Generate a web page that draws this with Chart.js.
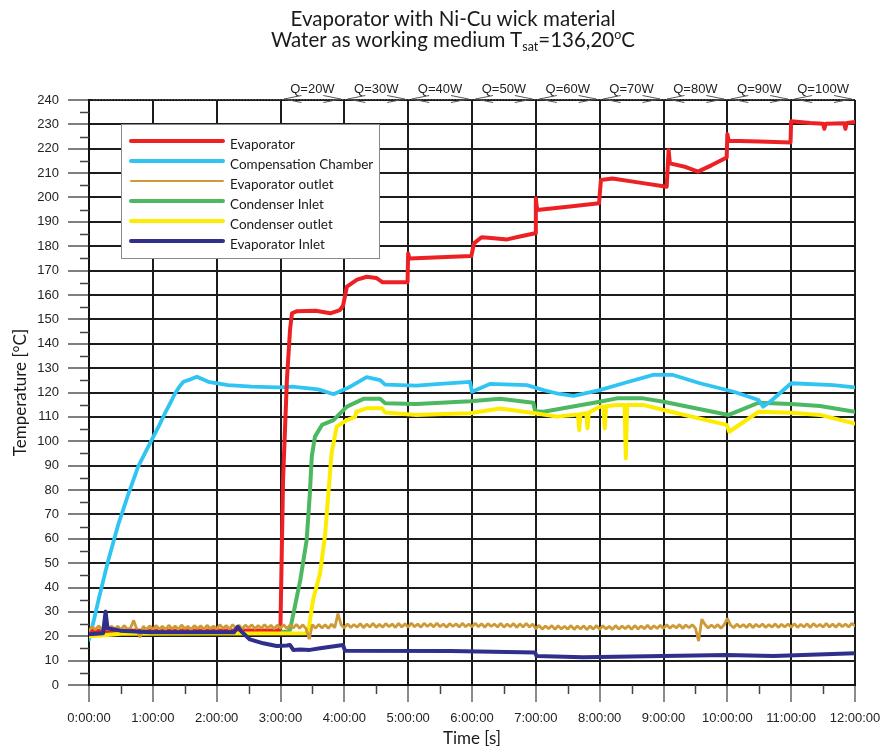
<!DOCTYPE html>
<html>
<head>
<meta charset="utf-8">
<script src="https://cdn.jsdelivr.net/npm/chart.js@4.4.1/dist/chart.umd.min.js"></script>
<style>
html,body{margin:0;padding:0;background:#fff;}
#wrap{position:relative;width:882px;height:749px;overflow:hidden;}
canvas{position:absolute;left:0;top:0;}
#title{position:absolute;left:0;top:8px;width:882px;box-sizing:border-box;padding-left:24px;text-align:center;
  font-family:Lato,"Open Sans",sans-serif;font-size:20.5px;line-height:21px;color:#1a1a1a;}
#title sub,#title sup{font-size:12.5px;line-height:0;position:relative;vertical-align:baseline;}
#title sub{top:4px;}
#title sup{top:-8px;}
</style>
</head>
<body>
<div id="wrap">
<canvas id="c" width="882" height="749"></canvas>
<div id="title">Evaporator with Ni-Cu wick material<br>Water as working medium T<sub>sat</sub>=136,20<sup>o</sup>C</div>
</div>
<script>
// ---------- data (time in hours, temperature in °C) ----------
const powerLabels = ['Q=20W','Q=30W','Q=40W','Q=50W','Q=60W','Q=70W','Q=80W','Q=90W','Q=100W'];
const powerStartHours = [3,4,5,6,7,8,9,10,11];

const seriesNames = ['Evaporator','Compensation Chamber','Evaporator outlet','Condenser Inlet','Condenser outlet','Evaporator Inlet'];

const evaporatorTime = [0,2.98,3.0,3.04,3.1,3.15,3.18,3.25,3.55,3.78,3.93,3.98,4.04,4.2,4.35,4.5,4.6,4.99,5.0,5.02,5.5,5.99,6.03,6.15,6.3,6.55,6.75,6.99,7.0,7.02,7.5,7.99,8.02,8.2,8.6,9.05,9.08,9.1,9.35,9.54,9.75,9.99,10.0,10.02,10.5,10.99,11.0,11.3,11.5,11.52,11.54,11.83,11.85,11.87,12.0];
const evaporatorTemp = [22.3,22.5,25,84,125,146,152.5,153.3,153.5,152.5,153.8,155.6,163.4,166.3,167.5,167,165.2,165.2,177,175,175.5,176,181.2,183.7,183.4,182.8,184,185.3,199.7,194.9,196.2,197.6,207.2,207.8,206.2,204.4,219.5,214,212.5,210.6,213.2,216.4,226,223.3,223,222.6,231.3,230.6,230.3,228.2,230.3,230.5,228.2,230.6,231];

const chamberTime = [0,0.08,0.15,0.3,0.46,0.62,0.77,0.98,1.1,1.19,1.28,1.35,1.42,1.48,1.6,1.69,1.87,2.18,2.55,2.97,3.18,3.59,3.83,4.1,4.35,4.56,4.64,5.13,5.5,5.97,6.0,6.28,6.86,7.12,7.35,7.59,8.0,8.4,8.84,9.15,9.57,10.1,10.49,10.56,10.67,11.0,11.66,12.0];
const chamberTemp = [18.5,27,35,51,66,78.6,89.6,100.5,106.5,111.5,116,119.7,122.5,124.4,125.5,126.5,124.4,123,122.4,122.1,122.4,121.3,119.3,122.5,126.3,125.1,123.2,122.8,123.5,124.4,120.3,123.5,123,121,119.5,118.6,121,124,127.2,127.2,123.8,120.3,116.9,114.2,116.2,123.8,123,122.1];

// evaporator outlet: logged every 3 minutes (0.05 h)
const outletSampleStepH = 0.05;
const outletTemp = [
22.4,23.8,22.7,24.3,22.8,24.0,22.5,24.2,23.0,24.1,22.6,24.4,22.9,23.4,26.5,22.8,19.5,24.1,22.7,24.3,
22.8,24.4,22.9,24.1,22.7,24.5,23.0,24.2,22.8,24.6,23.1,24.1,22.7,24.4,23.2,24.3,22.8,24.5,23.1,24.2,
23.0,24.7,23.2,24.4,22.9,24.8,23.3,24.5,23.0,24.6,23.4,24.7,23.1,24.4,23.2,24.8,23.3,24.5,23.0,24.6,
23.3,24.8,23.1,24.6,23.4,24.9,23.2,24.7,23.1,18.8,24.8,23.3,24.9,23.4,24.7,23.2,25.0,23.5,29.3,24.7,
23.4,25.1,23.6,24.8,23.7,25.2,23.5,25.0,23.8,25.3,23.6,24.9,23.7,25.2,23.9,25.0,23.6,25.3,23.8,25.1,
23.7,25.4,23.9,25.0,23.7,25.3,24.0,25.1,23.8,25.4,23.9,25.0,23.7,25.2,24.0,25.1,23.8,25.3,23.9,25.0,
23.8,25.4,23.9,25.1,23.7,25.2,24.0,25.0,23.8,25.3,23.7,25.0,23.9,25.2,23.6,25.1,23.8,25.3,23.8,25.0,
23.0,24.5,22.9,24.2,23.1,24.4,22.8,24.3,23.0,24.1,22.9,24.4,22.8,24.2,23.0,24.3,22.7,24.2,22.9,24.4,
22.8,24.3,23.0,24.1,22.8,24.4,22.9,24.2,23.1,24.3,22.8,24.4,23.0,24.2,23.1,24.5,23.0,24.3,23.2,24.5,
23.2,24.7,23.3,24.5,23.4,24.8,23.2,24.6,23.5,24.7,23.3,18.0,27.0,24.8,23.4,24.6,23.5,24.8,23.3,24.7,
27.3,24.6,23.5,25.0,23.7,24.8,23.6,25.1,23.5,24.9,23.8,25.0,23.6,24.8,23.7,25.1,23.6,24.9,23.8,25.0,
23.7,25.2,23.6,24.9,23.8,25.1,23.6,25.2,23.9,24.9,23.7,25.3,23.8,25.0,23.7,25.2,23.9,25.0,23.8,25.3,
24.2];

const condInletTime = [0,0.3,1.0,2.0,3.1,3.15,3.31,3.41,3.46,3.49,3.54,3.65,3.83,3.88,4.04,4.3,4.56,4.64,5.13,5.97,6.44,6.96,6.99,7.12,8.0,8.27,8.68,9.0,10.02,10.09,10.49,11.0,11.45,12.0];
const condInletTemp = [21,21.5,21.8,21.8,21.8,22.6,43,59.5,78.6,93.7,101.9,106.7,108.7,110,114.2,117.4,117.4,115.6,115.3,116.4,117.4,115.8,112.3,112.1,116.2,117.6,117.6,116.2,110.8,111.5,115.8,115.3,114.5,112.1];

const condOutletTime = [0,0.2,0.5,3.4,3.44,3.51,3.62,3.7,3.75,3.8,3.88,4.04,4.17,4.19,4.35,4.59,4.64,5.13,5.55,5.97,6.44,6.99,7.33,7.66,7.68,7.7,7.79,7.81,7.83,8.0,8.06,8.08,8.1,8.27,8.39,8.41,8.43,8.68,9.0,9.99,10.03,10.49,11.0,11.45,12.0];
const condOutletTemp = [20,20.3,21,21.2,22.6,35,45.8,62,78.6,95,106,108.7,110,112.1,113.5,113.5,111.8,110.8,111.2,111.5,113.4,111.5,110.1,111,104.6,111.2,111.5,105.3,111.8,114.2,114.3,105.3,114.4,114.9,114.9,93,114.9,114.9,112.8,106.7,103.9,112.1,111.7,110.8,107.3];

const evapInletTime = [0,0.22,0.26,0.29,0.49,0.96,2.27,2.33,2.39,2.52,2.73,2.94,3.1,3.15,3.2,3.31,3.46,3.62,3.98,4.01,5.66,6.99,7.01,7.74,9.99,10.72,12.0];
const evapInletTemp = [20.8,21.2,30.1,23.3,22.3,21.6,21.6,23.9,21.9,18.7,17.1,16,16.2,16.4,14.4,14.6,14.4,15.1,16.4,14.1,13.9,13.3,11.9,11.4,12.3,11.9,13];

// ---------- helpers ----------
const toPoints = (t, v) => t.map((x, i) => ({x: x, y: v[i]}));
const outletPoints = outletTemp.map((v, i) => ({x: i * outletSampleStepH, y: v}));

const seriesColors = ['#ed2024','#30c4f2','#cd9a35','#4db862','#fdec00','#302f8c'];
const legendWidths = [4,4,2,4,4,4];

const lineBase = {pointRadius:0, tension:0, fill:false, borderJoinStyle:'round', borderCapStyle:'round'};

const datasets = [
  Object.assign({}, lineBase, {label:seriesNames[0], data:toPoints(evaporatorTime, evaporatorTemp), borderColor:seriesColors[0], borderWidth:4, order:4}),
  Object.assign({}, lineBase, {label:seriesNames[1], data:toPoints(chamberTime, chamberTemp), borderColor:seriesColors[1], borderWidth:3.8, order:5}),
  Object.assign({}, lineBase, {label:seriesNames[2], data:outletPoints, borderColor:seriesColors[2], borderWidth:2.8, order:2, borderJoinStyle:'bevel'}),
  Object.assign({}, lineBase, {label:seriesNames[3], data:toPoints(condInletTime, condInletTemp), borderColor:seriesColors[3], borderWidth:4, order:6}),
  Object.assign({}, lineBase, {label:seriesNames[4], data:toPoints(condOutletTime, condOutletTemp), borderColor:seriesColors[4], borderWidth:4, order:3}),
  Object.assign({}, lineBase, {label:seriesNames[5], data:toPoints(evapInletTime, evapInletTemp), borderColor:seriesColors[5], borderWidth:4, order:1})
];

// minor tick marks (every 5 °C and every half hour)
const minorTicks = {
  id:'minorTicks',
  afterDraw(chart){
    const ctx = chart.ctx, xs = chart.scales.x, ys = chart.scales.y, a = chart.chartArea;
    ctx.save();
    ctx.strokeStyle = '#444'; ctx.lineWidth = 1.5;
    ctx.beginPath();
    for (let v = 5; v < 240; v += 10) {
      const y = Math.round(ys.getPixelForValue(v)) + 0.5;
      ctx.moveTo(a.left - 9, y); ctx.lineTo(a.left, y);
    }
    for (let h = 0.5; h < 12; h += 1) {
      const x = Math.round(xs.getPixelForValue(h)) + 0.5;
      ctx.moveTo(x, a.bottom); ctx.lineTo(x, a.bottom + 9);
    }
    ctx.stroke();
    ctx.restore();
  }
};

// heat-load annotations along the top edge
const powerSteps = {
  id:'powerSteps',
  afterDraw(chart){
    const ctx = chart.ctx, xs = chart.scales.x, a = chart.chartArea;
    const yLine = a.top - 1;
    ctx.save();
    ctx.strokeStyle = '#555'; ctx.lineWidth = 1;
    ctx.setLineDash([1.5, 1.5]);
    ctx.beginPath(); ctx.moveTo(a.left + 4, yLine + 0.5); ctx.lineTo(a.right, yLine + 0.5); ctx.stroke();
    ctx.setLineDash([]);
    ctx.fillStyle = '#222';
    ctx.font = "13px 'Liberation Sans', Arial, sans-serif";
    ctx.textAlign = 'center'; ctx.textBaseline = 'alphabetic';
    powerStartHours.forEach((h, i) => {
      const x0 = xs.getPixelForValue(h), x1 = xs.getPixelForValue(h + 1);
      ctx.fillText(powerLabels[i], (x0 + x1) / 2, a.top - 7);
      ctx.beginPath();
      ctx.moveTo(x0 + 21, yLine - 3.5); ctx.lineTo(x0 + 3.5, yLine); ctx.lineTo(x0 + 21, yLine + 3.5);
      ctx.moveTo(x1 - 21, yLine - 3.5); ctx.lineTo(x1 - 3.5, yLine); ctx.lineTo(x1 - 21, yLine + 3.5);
      ctx.stroke();
    });
    ctx.restore();
  }
};

// legend box drawn inside the plot area
const insideLegend = {
  id:'insideLegend',
  afterDatasetsDraw(chart){
    const ctx = chart.ctx, a = chart.chartArea;
    const bx = a.left + 32, by = a.top + 24, bw = 258, bh = 134;
    ctx.save();
    ctx.fillStyle = '#fff';
    ctx.fillRect(bx, by, bw, bh);
    ctx.strokeStyle = '#8a8a8a'; ctx.lineWidth = 1;
    ctx.strokeRect(bx + 0.5, by + 0.5, bw, bh);
    ctx.font = "13.5px Lato, 'Open Sans', sans-serif";
    ctx.textAlign = 'left'; ctx.textBaseline = 'alphabetic';
    chart.data.datasets.forEach((ds, i) => {
      const y = by + 17 + i * 20;
      ctx.strokeStyle = ds.borderColor;
      ctx.lineWidth = legendWidths[i];
      ctx.lineCap = 'round';
      ctx.beginPath(); ctx.moveTo(bx + 10, y); ctx.lineTo(bx + 102, y); ctx.stroke();
      ctx.fillStyle = '#1a1a1a';
      ctx.fillText(ds.label, bx + 109, y + 7.5);
    });
    ctx.restore();
  }
};

new Chart(document.getElementById('c'), {
  type:'line',
  data:{datasets:datasets},
  options:{
    responsive:false,
    animation:false,
    events:[],
    layout:{padding:{top:100, right:27, bottom:0, left:0}},
    plugins:{legend:{display:false}, tooltip:{enabled:false}, title:{display:false}},
    scales:{
      x:{
        type:'linear', min:0, max:12,
        afterFit(scale){ scale.height = 64; scale.paddingLeft = 0; scale.paddingRight = 0; },
        ticks:{stepSize:1, autoSkip:false, maxRotation:0, padding:9, color:'#222',
          font:{family:"'Liberation Sans', Arial, sans-serif", size:13},
          callback:(v) => Number.isInteger(v) ? v + ':00:00' : ''},
        grid:{color:'#1c1c1c', lineWidth:2, tickLength:17, tickColor:'#666', tickWidth:1.5},
        border:{color:'#111', width:2},
        title:{display:true, text:'Time [s]', color:'#1a1a1a', padding:{top:0, bottom:0},
          font:{family:"Lato, 'Open Sans', sans-serif", size:17}}
      },
      y:{
        min:0, max:240,
        afterFit(scale){ scale.width = 89; scale.paddingTop = 0; scale.paddingBottom = 0; },
        ticks:{stepSize:10, autoSkip:false, padding:9, color:'#222',
          font:{family:"'Liberation Sans', Arial, sans-serif", size:13}},
        grid:{color:'#1c1c1c', lineWidth:2, tickLength:21, tickColor:'#555', tickWidth:1.5},
        border:{color:'#111', width:2},
        title:{display:true, text:'Temperature [°C]', color:'#1a1a1a', padding:{top:10, bottom:0},
          font:{family:"Lato, 'Open Sans', sans-serif", size:17}}
      }
    }
  },
  plugins:[minorTicks, powerSteps, insideLegend]
});
</script>
</body>
</html>
